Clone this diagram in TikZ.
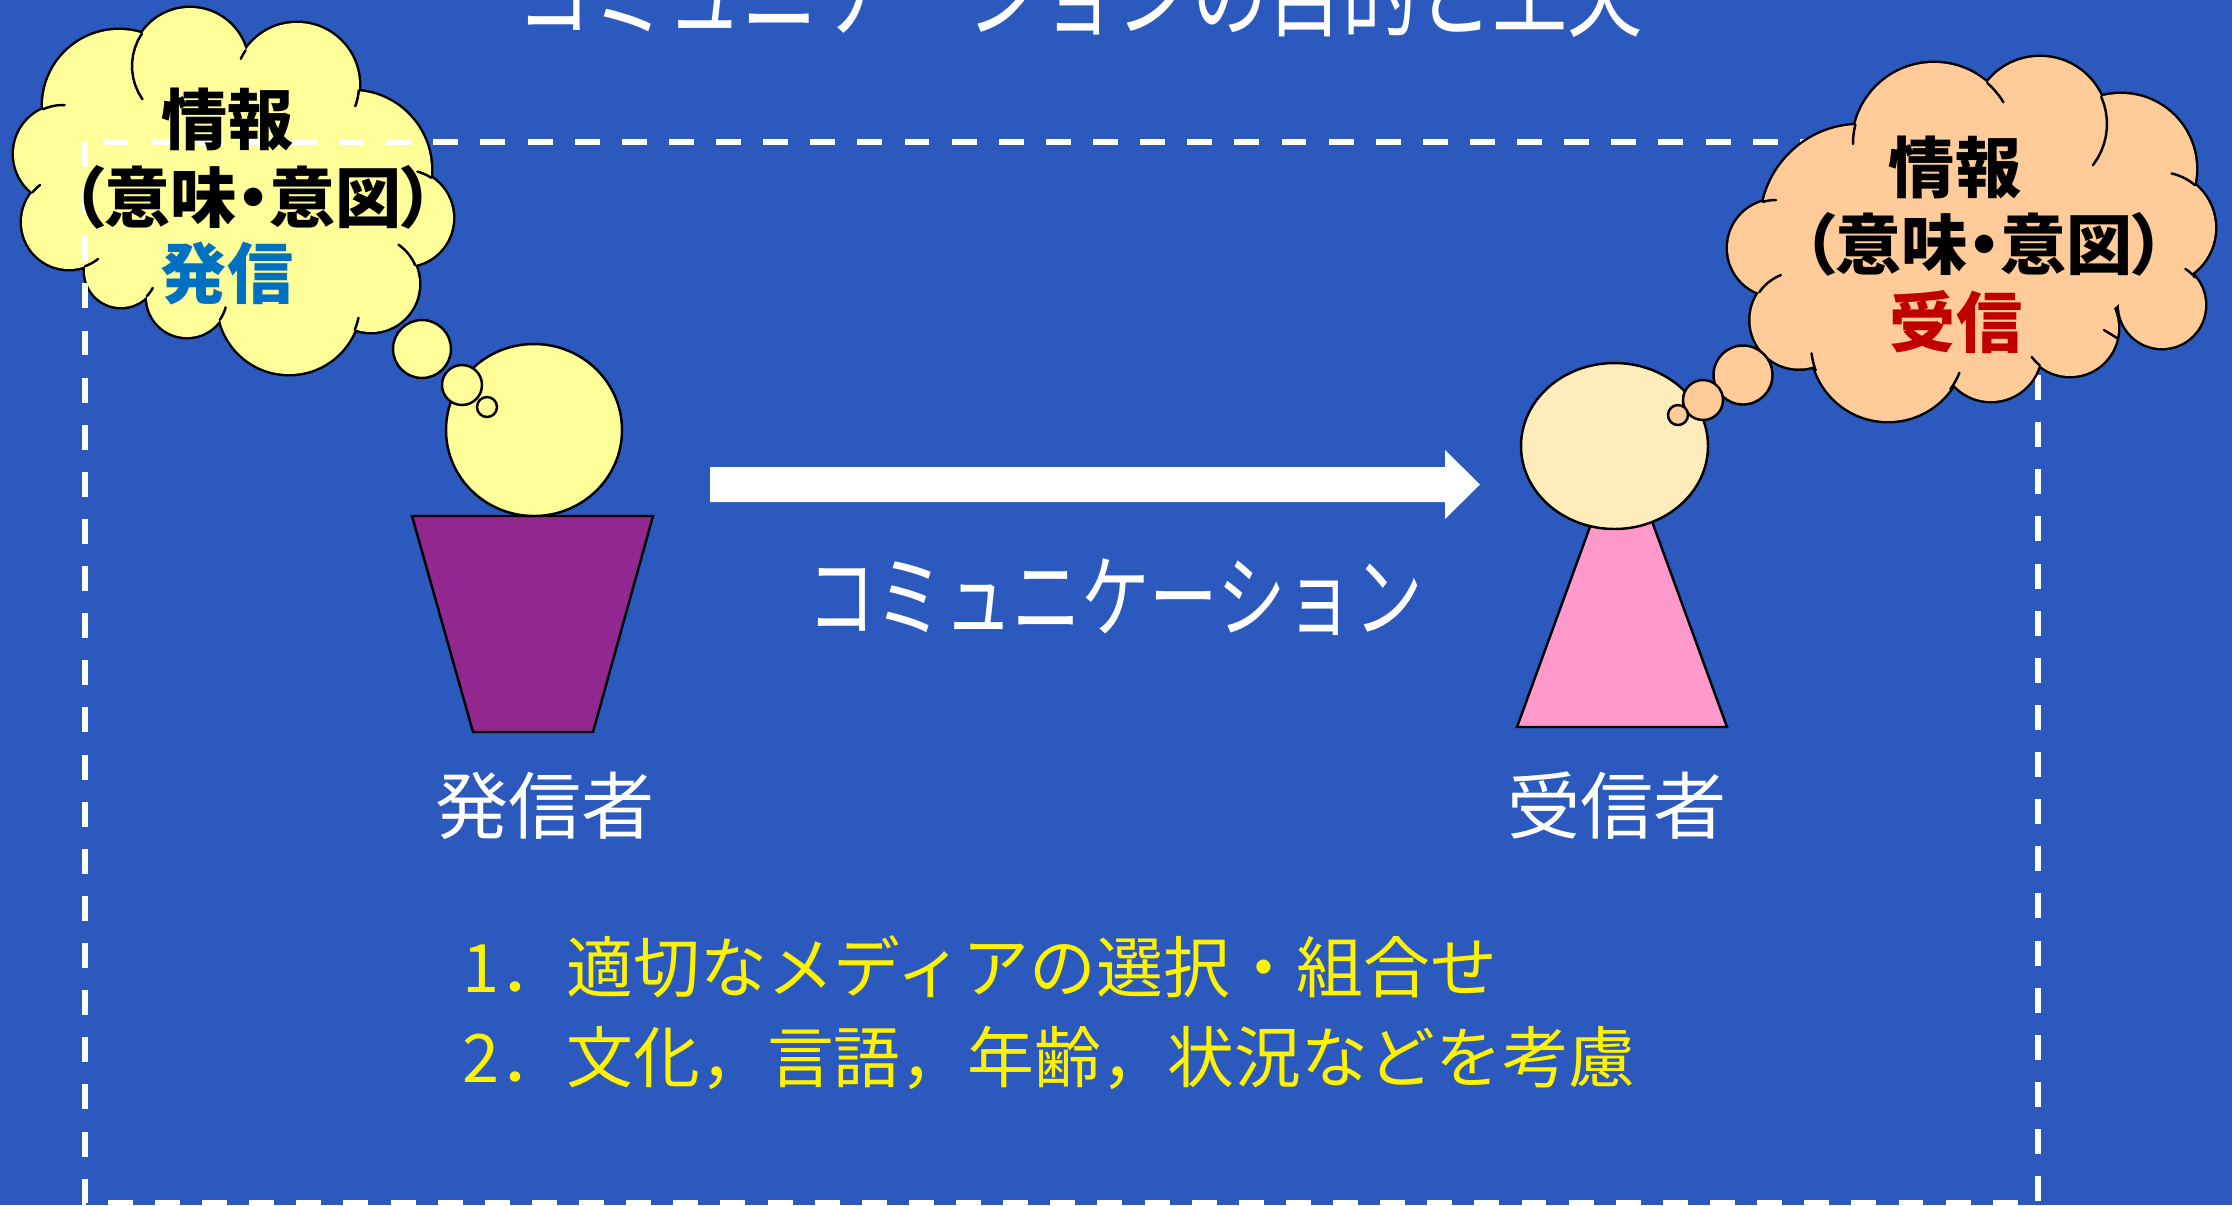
\documentclass[tikz,border=0pt]{standalone}
\usepackage{fontspec}
\usetikzlibrary{calc}
\newfontfamily\jp{Noto Sans CJK JP}
\newfontfamily\jpp{Noto Sans CJK JP}[RawFeature=+palt]

\definecolor{bgblue}{RGB}{44,89,189}
\definecolor{paleyellow}{RGB}{255,255,153}
\definecolor{peach}{RGB}{255,204,153}
\definecolor{cream}{RGB}{255,236,187}
\definecolor{plum}{RGB}{146,39,143}
\definecolor{rosepink}{RGB}{255,153,204}
\definecolor{sendblue}{RGB}{0,112,192}
\definecolor{recvred}{RGB}{192,0,0}

% puffs of the two thought clouds: centre x / centre y / x radius / y radius
\def\leftpuffs{63/154/49/49, 119/106/76/76, 190/66/58/58, 297/85/62/62,
    352/170/79/79, 405/218/48/48, 371/284/48/48, 289/303/71/71, 187/297/40/40,
    121/271/36/36, 69/222/47/47, 240/200/150/110}
\def\rightpuffs{1934/144/81/81, 2040/124/67/67, 2121/169/75/75, 2159/228/56/56,
    2162/305/43/43, 2070/328/48/48, 1991/351/50/50, 1888/344/77/77, 1799/320/48.5/48.5,
    1776/248/48/48, 1860/224/99/99, 1975/245/170/110}
% short inner arcs where puffs overlap: centre x / centre y / radius / from / to (degrees)
\def\leftseams{63/154/49/-114/-88, 190/66/58/145/214, 297/85/62/205/214,
    297/85/62/5/20, 405/218/48/-75/-57, 371/284/48/-55/-23, 289/303/71/12/22,
    187/297/40/15/35, 121/271/36/28/44, 69/222/47/52/70, 69/222/47/219/232}
\def\rightseams{1776/248/48/-106/-90, 1934/144/81/180/194, 1934/144/81/-49/-31,
    2040/124/67/-24/38, 2159/228/56/-77/-50, 2162/305/43/-57/-40, 2070/328/48/129/143,
    1888/344/77/22/36, 1888/344/77/160/173, 1799/320/48.5/215/248}

\begin{document}
\begin{tikzpicture}[x=0.01cm, y=-0.01cm,
  outline/.style={draw=black, line width=0.7pt},
  seam/.style={draw=black, line width=0.7pt, line cap=round},
  cloudtext/.style={inner sep=0pt, font=\jpp\bfseries\fontsize{18.8}{20}\selectfont},
  whitelabel/.style={inner sep=0pt, text=white},
  tiptext/.style={inner sep=0pt, anchor=west, text=yellow, font=\jp\fontsize{19}{22}\selectfont},
  boxline/.style={draw=white, line width=1.7pt, dash pattern=on 7.1pt off 6.3pt}]

% page and background
\fill[bgblue] (0,0) rectangle (2232,1205);
\useasboundingbox (0,0) rectangle (2232,1205);
\clip (0,0) rectangle (2232,1205);

% heading, partly above the page edge
\node[whitelabel, anchor=base, font=\jp\fontsize{28.5}{30}\selectfont] (title) at (1080,29)
  {\scalebox{0.75}[1]{コミュニケーションの目的と工夫}};

% ---- sender's thought cloud: outline of the union of puffs ----
\foreach \x/\y/\a/\b in \leftpuffs
  \filldraw[fill=paleyellow, draw=black, line width=1.4pt] (\x,\y) circle[x radius=\a, y radius=\b];
\foreach \x/\y/\a/\b in \leftpuffs
  \fill[paleyellow] (\x,\y) circle[x radius=\a, y radius=\b];
\foreach \x/\y/\r/\p/\q in \leftseams
  \draw[seam] plot[domain=\p:\q, samples=10, variable=\t] ({\x+\r*cos(\t)},{\y+\r*sin(\t)});

% dashed frame
\draw[boxline] (85,142) rectangle (2038,1203);

% sender's cloud text
\node[cloudtext] (infoL) at (228,119) {情報};
\node[cloudtext] (meanL) at (253,197) {（意味・意図）};
\node[cloudtext, text=sendblue] (sendL) at (227,273) {発信};

% ---- receiver's thought cloud ----
\foreach \x/\y/\a/\b in \rightpuffs
  \filldraw[fill=peach, draw=black, line width=1.4pt] (\x,\y) circle[x radius=\a, y radius=\b];
\foreach \x/\y/\a/\b in \rightpuffs
  \fill[peach] (\x,\y) circle[x radius=\a, y radius=\b];
\foreach \x/\y/\r/\p/\q in \rightseams
  \draw[seam] plot[domain=\p:\q, samples=10, variable=\t] ({\x+\r*cos(\t)},{\y+\r*sin(\t)});
\coordinate (seamA) at (2117,338);
\coordinate (seamB) at (2104,330);
\draw[seam] (seamA) -- (seamB);

\node[cloudtext] (infoR) at (1955,167) {情報};
\node[cloudtext] (meanR) at (1984,244) {（意味・意図）};
\node[cloudtext, text=recvred] (recvR) at (1956,322) {受信};

% ---- sender figure ----
\filldraw[fill=plum, outline] (412,516) -- (653,516) -- (593,732) -- (473,732) -- cycle;
\filldraw[fill=paleyellow, outline] (534,430) circle[x radius=88, y radius=86];
\filldraw[fill=paleyellow, outline] (422,349) circle[radius=29];
\filldraw[fill=paleyellow, outline] (462,385) circle[radius=20];
\filldraw[fill=paleyellow, outline] (487,407) circle[radius=10];

% ---- receiver figure ----
\filldraw[fill=rosepink, outline] (1622,439) -- (1727,727) -- (1517,727) -- cycle;
\filldraw[fill=cream, outline] (1614.5,446) circle[x radius=93.5, y radius=83];
\filldraw[fill=peach, outline] (1743,375) circle[radius=29.5];
\filldraw[fill=peach, outline] (1703,400) circle[radius=20];
\filldraw[fill=peach, outline] (1678,415) circle[radius=10];

% ---- communication arrow ----
\coordinate (arrowtail) at (710,484.5);
\coordinate (arrowtip) at (1480,484.5);
\fill[white] ($(arrowtail)+(0,-17.5)$) -- (1445,467) -- (1445,450) -- (arrowtip)
  -- (1445,519) -- (1445,502) -- ($(arrowtail)+(0,17.5)$) -- cycle;

\node[whitelabel, font=\jp\fontsize{25.8}{28}\selectfont] (commlabel) at (1115,597)
  {\scalebox{0.755}[1]{コミュニケーション}};

\node[whitelabel, font=\jp\fontsize{20.8}{24}\selectfont] (sender) at (545,806) {発信者};
\node[whitelabel, font=\jp\fontsize{20.8}{24}\selectfont] (receiver) at (1617,806) {受信者};

% ---- points to consider ----
\node[tiptext] (tip1) at (462,967) {1．適切なメディアの選択・組合せ};
\node[tiptext] (tip2) at (462,1058) {2．文化，言語，年齢，状況などを考慮};
\end{tikzpicture}
\end{document}
